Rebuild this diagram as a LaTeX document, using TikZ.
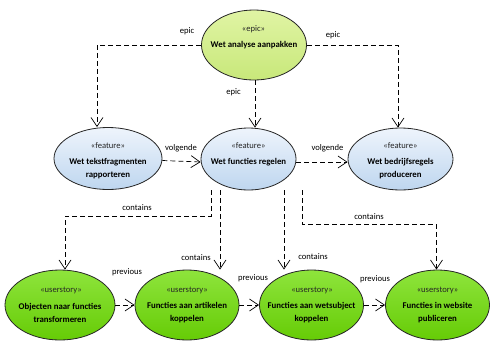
\documentclass[tikz,border=0pt]{standalone}
\usepackage{fontspec}
\setmainfont{Carlito}
\usetikzlibrary{shapes.geometric,arrows.meta,calc}
\definecolor{epicTop}{HTML}{E0F4A4}
\definecolor{epicBot}{HTML}{C8E87A}
\definecolor{featTop}{HTML}{EEF4FC}
\definecolor{featBot}{HTML}{BED6EF}
\definecolor{usTop}{HTML}{8EE43C}
\definecolor{usBot}{HTML}{66CC06}
\begin{document}
\begin{tikzpicture}[x=1pt,y=-1pt,
  uc/.style={ellipse,draw=black!85,line width=0.8pt,inner sep=0pt},
  epicuc/.style={uc,top color=epicTop,bottom color=epicBot,minimum width=105pt,minimum height=70pt},
  featuc/.style={uc,top color=featTop,bottom color=featBot,minimum height=62pt},
  storyuc/.style={uc,top color=usTop,bottom color=usBot,minimum height=70pt,minimum width=104pt},
  stereo/.style={font=\fontsize{8.6}{10}\selectfont,inner sep=0pt,text=black!85},
  ucname/.style={font=\bfseries\fontsize{8.8}{13}\selectfont,inner sep=0pt,align=center},
  lbl/.style={font=\fontsize{8.6}{10}\selectfont,inner sep=0pt},
  dep/.style={draw=black,line width=0.7pt,dash pattern=on 5pt off 3pt,-{Straight Barb[length=9pt,width=12pt]}}]
\useasboundingbox[fill=white] (0,0) rectangle (500,351);

% use cases
\node[epicuc] (top) at (254,45) {};
\node[featuc,minimum width=108pt] (fl) at (108,158.5) {};
\node[featuc,minimum width=95pt] (fm) at (248.5,159) {};
\node[featuc,minimum width=105pt] (fr) at (400.5,159) {};
\node[storyuc,minimum width=110pt] (b1) at (60,305) {};
\node[storyuc] (b2) at (187,305) {};
\node[storyuc] (b3) at (311.5,305) {};
\node[storyuc] (b4) at (437.5,305) {};

% texts
\node[stereo] (s0) at (253.5,29) {«epic»};
\node[ucname] (n0) at (254,45) {Wet analyse aanpakken};
\node[stereo] (s1) at (108,146) {«feature»};
\node[ucname] (n1) at (108,168.5) {Wet tekstfragmenten\\rapporteren};
\node[stereo] (s2) at (248.5,146) {«feature»};
\node[ucname] (n2) at (248.5,162) {Wet functies regelen};
\node[stereo] (s3) at (400.5,146) {«feature»};
\node[ucname] (n3) at (400.5,168.5) {Wet bedrijfsregels\\produceren};
\node[stereo] (s4) at (61,290) {«userstory»};
\node[ucname] (n4) at (60,312.5) {Objecten naar functies\\transformeren};
\node[stereo] (s5) at (187,290) {«userstory»};
\node[ucname] (n5) at (187,312.5) {Functies aan artikelen\\koppelen};
\node[stereo] (s6) at (312,290) {«userstory»};
\node[ucname] (n6) at (311.5,312.5) {Functies aan wetsubject\\koppelen};
\node[stereo] (s7) at (437.5,290) {«userstory»};
\node[ucname] (n7) at (437.5,312.5) {Functies in website\\publiceren};

% epic connectors
\draw[dep] (top.west) -| ([xshift=-11pt]fl.north);
\draw[dep] ([xshift=1pt]top.south) -- ([xshift=1pt]top.south |- fm.north);
\draw[dep] (top.east) -| ([xshift=-2.5pt]fr.north);
\node[lbl] (le1) at (187,31) {epic};
\node[lbl] (le2) at (233.5,92) {epic};
\node[lbl] (le3) at (333,35) {epic};

% volgende
\draw[dep] ([yshift=-2pt]fl.east) -- ([yshift=-3pt]fm.west);
\draw[dep] ([yshift=-3pt]fm.east) -- ([yshift=-3pt]fr.west);
\node[lbl] (lv1) at (181,148) {volgende};
\node[lbl] (lv2) at (327.5,148) {volgende};

% contains
\draw[dep] ([xshift=-37.5pt]fm.south) -- ++(0,26) -| ([xshift=5pt]b1.north);
\draw[dep] ([xshift=-28.5pt]fm.south) -- ([xshift=-28.5pt]fm.south |- b2.north);
\draw[dep] ([xshift=35.5pt]fm.south) -- ([xshift=35.5pt]fm.south |- b3.north);
\draw[dep] ([xshift=53.5pt]fm.south) -- ++(0,34) -| ([xshift=-1pt]b4.north);
\node[lbl] (lc1) at (137,208) {contains};
\node[lbl] (lc2) at (196,258) {contains};
\node[lbl] (lc3) at (313,257) {contains};
\node[lbl] (lc4) at (369,217) {contains};

% previous
\draw[dep] (b1.east) -- (b2.west);
\draw[dep] (b2.east) -- (b3.west);
\draw[dep] (b3.east) -- (b4.west);
\node[lbl] (lp1) at (127,272) {previous};
\node[lbl] (lp2) at (253,278) {previous};
\node[lbl] (lp3) at (375,279) {previous};
\end{tikzpicture}
\end{document}
